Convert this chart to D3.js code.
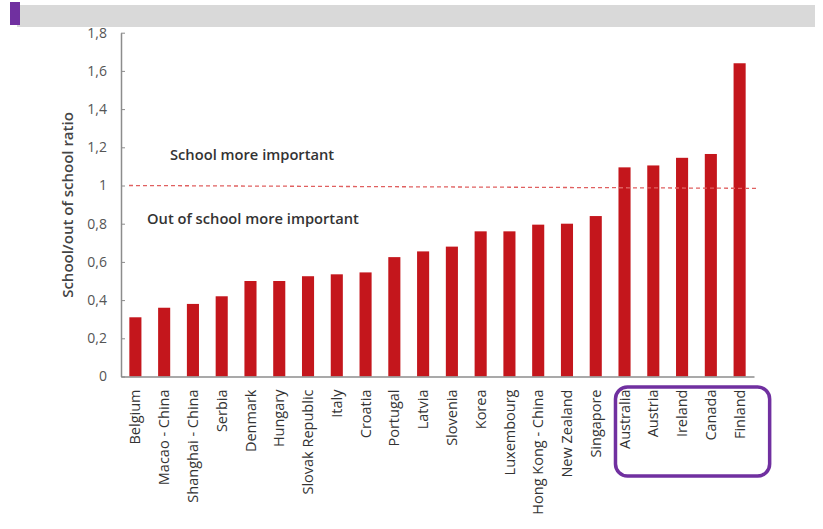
<!DOCTYPE html>
<html>
<head>
<meta charset="utf-8">
<script src="https://cdn.jsdelivr.net/npm/d3@7"></script>
<style>
  html, body { margin: 0; padding: 0; background: #fff; }
  svg { display: block; }
</style>
</head>
<body>
<svg id="chart" width="823" height="529"></svg>
<script>
// Countries, ordered by school / out-of-school ratio
const countries = [
  "Belgium", "Macao - China", "Shanghai - China", "Serbia", "Denmark",
  "Hungary", "Slovak Republic", "Italy", "Croatia", "Portugal", "Latvia",
  "Slovenia", "Korea", "Luxembourg", "Hong Kong - China", "New Zealand",
  "Singapore", "Australia", "Austria", "Ireland", "Canada", "Finland"
];
const ratios = [
  0.31, 0.36, 0.38, 0.42, 0.50, 0.50, 0.525, 0.535, 0.545, 0.625, 0.655,
  0.68, 0.76, 0.76, 0.795, 0.80, 0.84, 1.095, 1.105, 1.145, 1.165, 1.64
];
const yTicks = [0, 0.2, 0.4, 0.6, 0.8, 1, 1.2, 1.4, 1.6, 1.8];
const yTickLabels = ["0", "0,2", "0,4", "0,6", "0,8", "1", "1,2", "1,4", "1,6", "1,8"];
const highlighted = ["Australia", "Austria", "Ireland", "Canada", "Finland"];
const thresholdStart = 1.0, thresholdEnd = 0.985;

const svg = d3.select("#chart");
const font = "'Open Sans', 'DejaVu Sans', sans-serif";

// Header band with accent square
svg.append("rect").attr("x", 17).attr("y", 5).attr("width", 798).attr("height", 22).attr("fill", "#d9d9d9");
svg.append("rect").attr("x", 10).attr("y", 2).attr("width", 10).attr("height", 23).attr("fill", "#7030a0");

const plotLeft = 121, plotRight = 754, plotTop = 32.7, plotBottom = 376.5;

const x = d3.scaleBand().domain(countries).range([plotLeft, plotRight]).paddingInner(0.58).paddingOuter(0.29);
const y = d3.scaleLinear().domain([0, 1.8]).range([plotBottom, plotTop]);

// Bars
svg.append("g").selectAll("rect").data(countries).join("rect")
  .attr("x", d => x(d))
  .attr("width", x.bandwidth())
  .attr("y", (d, i) => y(ratios[i]))
  .attr("height", (d, i) => y(0) - y(ratios[i]))
  .attr("fill", "#c4161c");

// Y axis
const yAxis = d3.axisLeft(y).tickValues(yTicks)
  .tickFormat((d, i) => yTickLabels[i]).tickSizeInner(-4).tickSizeOuter(0).tickPadding(14);
const gy = svg.append("g").attr("transform", `translate(${plotLeft},0)`).call(yAxis);
gy.select(".domain").attr("stroke", "#8c8c8c").attr("stroke-width", 1.5);
gy.selectAll(".tick line").attr("stroke", "#8c8c8c");
gy.selectAll(".tick text").attr("fill", "#555").style("font-family", font).style("font-size", "14px");

// X axis
const xAxis = d3.axisBottom(x).tickSize(0).tickPadding(11);
const gx = svg.append("g").attr("transform", `translate(0,${plotBottom})`).call(xAxis);
gx.select(".domain").attr("stroke", "#8c8c8c").attr("stroke-width", 1.5);
gx.selectAll(".tick text")
  .attr("transform", "rotate(-90)")
  .attr("text-anchor", "end")
  .attr("x", -13).attr("y", 0).attr("dy", "0.35em")
  .attr("fill", "#333")
  .style("font-family", font).style("font-size", "14.5px");

// Y axis title
svg.append("text")
  .attr("transform", "translate(68,205) rotate(-90)")
  .attr("text-anchor", "middle").attr("dy", "0.35em")
  .attr("fill", "#444").style("font-family", font).style("font-size", "15px").style("font-weight", "600")
  .text("School/out of school ratio");

// Threshold line at ratio 1
svg.append("line")
  .attr("x1", 129).attr("x2", 757)
  .attr("y1", y(thresholdStart)).attr("y2", y(thresholdEnd))
  .attr("stroke", "#e06060").attr("stroke-width", 1.3).attr("stroke-dasharray", "4,3");

svg.append("text").attr("x", 170).attr("y", 160)
  .attr("fill", "#333").style("font-family", font).style("font-size", "14.7px").style("font-weight", "600")
  .text("School more important");
svg.append("text").attr("x", 147).attr("y", 224)
  .attr("fill", "#333").style("font-family", font).style("font-size", "14.7px").style("font-weight", "600")
  .text("Out of school more important");

// Highlight frame around the countries above 1
const first = highlighted[0], last = highlighted[highlighted.length - 1];
const frameLeft = x(first) - 3, frameRight = x(last) + x.bandwidth() + 24;
svg.append("rect")
  .attr("x", frameLeft).attr("y", 387)
  .attr("width", frameRight - frameLeft).attr("height", 89)
  .attr("rx", 12).attr("fill", "none").attr("stroke", "#7030a0").attr("stroke-width", 3.5);
</script>
</body>
</html>
